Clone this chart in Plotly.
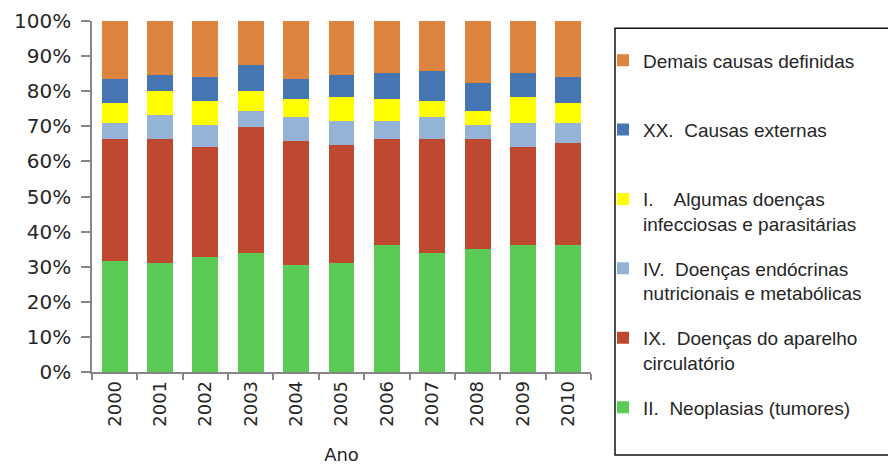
import plotly.graph_objects as go

anos = ["2000", "2001", "2002", "2003", "2004", "2005", "2006", "2007", "2008", "2009", "2010"]

# shares per year (%), bottom segment first
neoplasias = [31.6, 31.0, 32.7, 33.8, 30.4, 31.0, 36.1, 33.8, 35.0, 36.1, 36.1]
circulatorio = [34.7, 35.3, 31.4, 36.0, 35.4, 33.6, 30.2, 32.5, 31.3, 28.0, 29.1]
endocrinas = [4.5, 6.8, 6.2, 4.6, 6.8, 6.8, 5.1, 6.3, 4.0, 6.7, 5.7]
infecciosas = [5.8, 6.9, 6.9, 5.7, 5.1, 6.9, 6.4, 4.5, 4.1, 7.5, 5.7]
externas = [6.8, 4.5, 6.8, 7.4, 5.7, 6.2, 7.3, 8.6, 7.9, 6.8, 7.4]
demais = [16.6, 15.5, 16.0, 12.5, 16.6, 15.5, 14.9, 14.3, 17.7, 14.9, 16.0]

series = [
    ("II.  Neoplasias (tumores)<br> ", neoplasias, "#5ACB55"),
    ("IX.  Doenças do aparelho<br>circulatório", circulatorio, "#BE4930"),
    ("IV.  Doenças endócrinas<br>nutricionais e metabólicas", endocrinas, "#95B3D7"),
    ("I.    Algumas doenças<br>infecciosas e parasitárias", infecciosas, "#FFFF00"),
    ("XX.  Causas externas<br> ", externas, "#4576B3"),
    ("Demais causas definidas<br> ", demais, "#DD843F"),
]

fig = go.Figure()
for i, (name, vals, color) in enumerate(series):
    fig.add_trace(go.Bar(
        x=anos,
        y=vals,
        name=name,
        legendgroup=f"g{i}",
        legendrank=100 - i,  # top segment listed first
        marker=dict(color=color, line=dict(width=0)),
    ))

axis_color = "#868686"

# page body has an 8px margin, so work in figure pixels = screen - 8
FW, FH = 888, 457
L, R, T, B = 84, 583, 12.7, 364
W, H = R - L, B - T

def px_x(px):
    return (px - L) / W

def px_y(py):
    return (B - py) / H

fig.update_layout(
    width=FW,
    height=FH,
    barmode="stack",
    barnorm="percent",
    bargap=0.43,
    plot_bgcolor="white",
    paper_bgcolor="white",
    margin=dict(l=L, r=FW - R, t=T, b=FH - B, autoexpand=False),
    font=dict(family="DejaVu Sans", color="#333333"),
    showlegend=True,
    legend=dict(
        traceorder="grouped",
        tracegroupgap=17,
        valign="top",
        x=px_x(595),
        xanchor="left",
        y=px_y(33),
        yanchor="top",
        maxheight=FH,
        font=dict(family="Liberation Sans", size=19, color="#262626"),
        bgcolor="rgba(0,0,0,0)",
        borderwidth=0,
    ),
    shapes=[dict(
        type="rect",
        xref="paper", yref="paper",
        x0=px_x(607), x1=px_x(885),
        y0=px_y(447), y1=px_y(20),
        line=dict(color="#111111", width=1.5),
        fillcolor="rgba(0,0,0,0)",
    )],
)

fig.update_xaxes(
    type="category",
    showline=True,
    linecolor=axis_color,
    linewidth=1.5,
    ticks="outside",
    tickson="boundaries",
    ticklen=6,
    tickcolor=axis_color,
    tickwidth=1.5,
    tickangle=-90,
    tickfont=dict(family="DejaVu Sans", size=18, color="#262626"),
    showgrid=False,
    title=dict(text="Ano", font=dict(family="DejaVu Sans", size=18, color="#262626"), standoff=30),
)

fig.update_yaxes(
    range=[0, 100],
    dtick=10,
    ticksuffix="%",
    showline=True,
    linecolor=axis_color,
    linewidth=1.5,
    ticks="outside",
    ticklen=9,
    tickcolor=axis_color,
    tickwidth=1.5,
    ticklabelstandoff=6,
    tickfont=dict(family="DejaVu Sans", size=20, color="#262626"),
    showgrid=False,
    zeroline=False,
)

fig.write_html("out.html")
